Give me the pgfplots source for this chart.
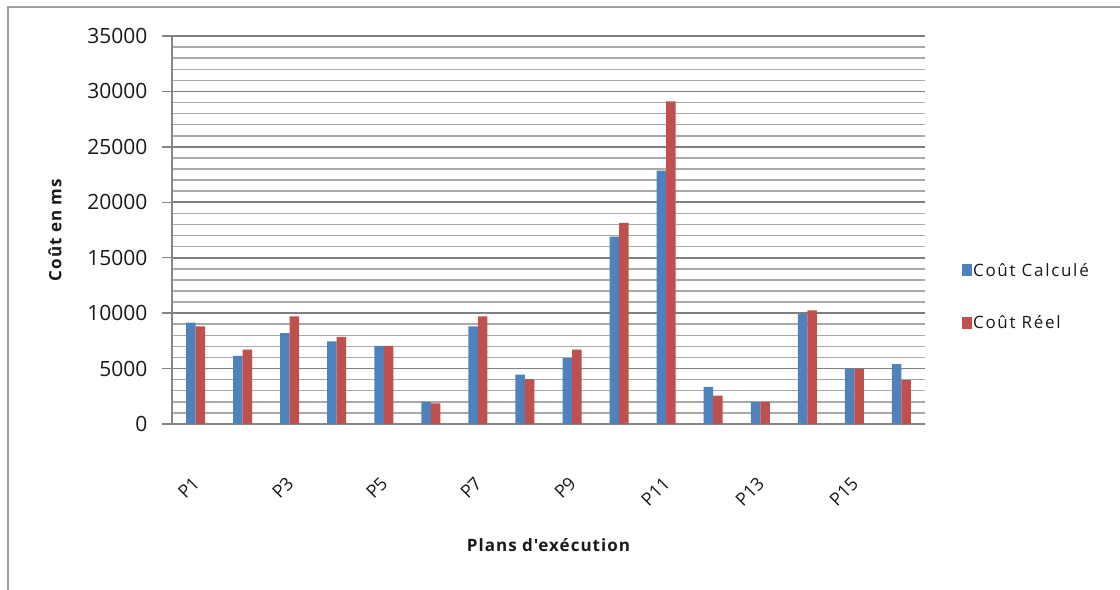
\documentclass[border=0pt]{standalone}
\usepackage{pgfplots}
\pgfplotsset{compat=1.18}
\usepackage{fontspec}
\setmainfont{Open Sans}
\newfontfamily\lblfont{Open Sans}[LetterSpace=10]
\newfontfamily\ttlfont{Open Sans}[LetterSpace=6]
\definecolor{cblue}{HTML}{4F81BD}
\definecolor{cred}{HTML}{C0504D}
\definecolor{gridmaj}{HTML}{7F7F7F}
\definecolor{gridmin}{HTML}{A8A8A8}
\definecolor{axisgray}{HTML}{858585}
\definecolor{txt}{HTML}{1A1A1A}
\definecolor{frame}{HTML}{A0A0A0}
\begin{document}
\begin{tikzpicture}
\useasboundingbox (0,0) rectangle (1120bp,590bp);
\fill[white] (0,0) rectangle (1120bp,590bp);
\draw[frame, line width=1.5bp] (8bp,0) -- (8bp,583bp) -- (1120bp,583bp);
\begin{axis}[
  at={(172bp,166bp)}, anchor=south west,
  scale only axis, width=753bp, height=388bp,
  xmin=-0.5, xmax=15.5, ymin=0, ymax=35000,
  ybar=0pt, bar width=9.5bp,
  axis x line*=bottom, axis y line*=left,
  axis line style={-, draw=axisgray, line width=1.6bp},
  ytick={0,5000,...,35000}, minor y tick num=4,
  ymajorgrids, yminorgrids,
  major grid style={draw=gridmaj, line width=1.7bp},
  minor grid style={draw=gridmin, line width=1.5bp},
  tick align=outside, major tick length=10bp, minor tick length=0bp,
  ytick style={draw=axisgray, line width=1.4bp},
  xtick={0,2,...,14}, xticklabels={P1,P3,P5,P7,P9,P11,P13,P15},
  xtick style={draw=none},
  scaled y ticks=false,
  yticklabel style={font=\fontsize{21bp}{24bp}\selectfont, text=txt, xshift=-11bp,
    /pgf/number format/assume math mode=true, /pgf/number format/1000 sep={}},
  xticklabel style={font=\fontsize{18bp}{21bp}\selectfont, text=txt,
    yshift=-44bp, xshift=3bp, rotate=45, anchor=east},
  ylabel={Coût en ms}, xlabel={Plans d'exécution},
  every axis y label/.style={at={(axis description cs:0,0.5)}, xshift=-117bp,
    rotate=90, anchor=center, font=\ttlfont\bfseries\fontsize{17bp}{20bp}\selectfont, text=txt},
  every axis x label/.style={at={(axis description cs:0.5,0)}, yshift=-121bp,
    anchor=center, font=\ttlfont\bfseries\fontsize{17bp}{20bp}\selectfont, text=txt},
  legend style={at={(axis description cs:1.049,0.4175)}, anchor=north west,
    draw=none, fill=none, inner sep=0pt, row sep=36bp,
    font=\lblfont\fontsize{17bp}{20bp}\selectfont, text=txt,
    nodes={inner sep=1bp, anchor=west}},
  legend cell align=left,
]
\addplot[fill=cblue, draw=none,
  legend image code/.code={\fill[cblue] (0bp,-6bp) rectangle (10bp,6bp);}]
  coordinates {(0,9150) (1,6150) (2,8200) (3,7450) (4,7050) (5,2000) (6,8800) (7,4450)
               (8,5950) (9,16900) (10,22850) (11,3350) (12,2000) (13,9950) (14,4950) (15,5400)};
\addplot[fill=cred, draw=none,
  legend image code/.code={\fill[cred] (0bp,-6bp) rectangle (10bp,6bp);}]
  coordinates {(0,8800) (1,6700) (2,9700) (3,7850) (4,7050) (5,1850) (6,9700) (7,4050)
               (8,6700) (9,18150) (10,29100) (11,2550) (12,2000) (13,10250) (14,4950) (15,3950)};
\legend{Coût Calculé, Coût Réel}
\end{axis}
\end{tikzpicture}
\end{document}
